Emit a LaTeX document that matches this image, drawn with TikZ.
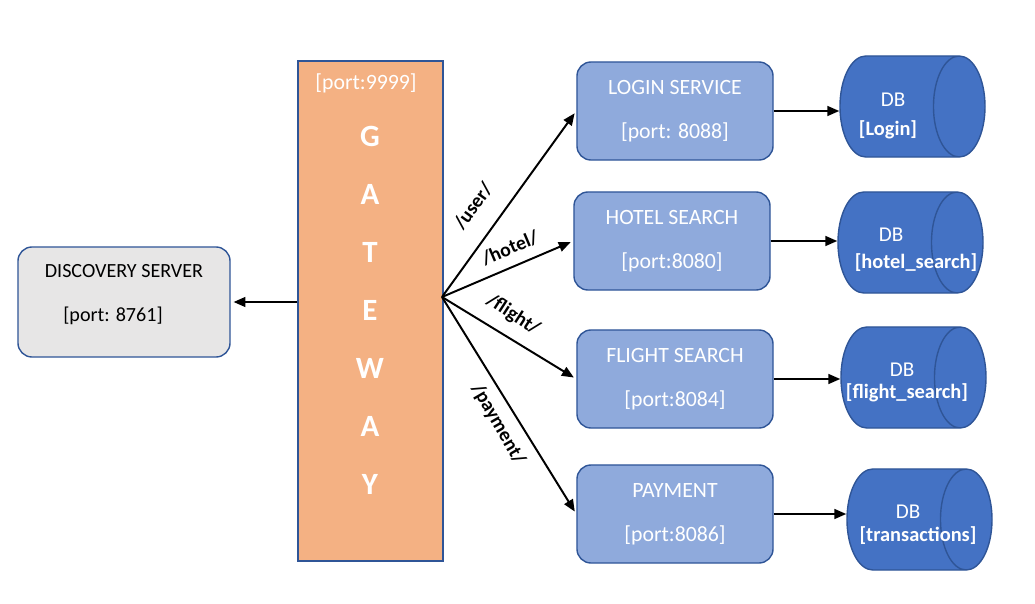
\documentclass[tikz,border=0pt]{standalone}
\usepackage{fontspec}
\setmainfont{Carlito}
\usetikzlibrary{shapes.geometric,arrows.meta}
\definecolor{gwfill}{HTML}{F4B183}
\definecolor{edge}{HTML}{2F5597}
\definecolor{svcfill}{HTML}{8FAADC}
\definecolor{dbfill}{HTML}{4472C4}
\definecolor{dsfill}{HTML}{E7E6E6}
\tikzset{
  svc/.style={draw=edge, fill=svcfill, line width=1pt, rounded corners=10pt,
    minimum width=4.9cm, minimum height=2.45cm, text=white, align=center,
    font=\fontsize{15.5}{18}\selectfont},
  db/.style={cylinder, shape border rotate=0, aspect=5.5, anchor=shape center,
    draw=edge, fill=dbfill, line width=1pt, minimum height=3.625cm, minimum width=2.525cm},
  lbl/.style={font=\bfseries\fontsize{14}{17}\selectfont},
  dbtxt/.style={text=white, font=\fontsize{15}{18}\selectfont},
  dbbold/.style={text=white, font=\bfseries\fontsize{14.5}{17}\selectfont},
  gwtxt/.style={text=white, font=\bfseries\fontsize{22}{26}\selectfont},
  arr/.style={->, line width=1.4pt}
}
\begin{document}
\begin{tikzpicture}[x=0.025cm, y=-0.025cm, >={Triangle[length=8.5pt,width=7pt]}]
\useasboundingbox (0,0) rectangle (1035,604);

% discovery + gateway
\node[draw=edge, fill=dsfill, line width=1pt, rounded corners=10pt,
  minimum width=5.3cm, minimum height=2.75cm] (ds) at (124,302) {};
\node[font=\fontsize{14.3}{17}\selectfont] (dsname) at (124,271) {DISCOVERY SERVER};
\node[font=\fontsize{14.3}{17}\selectfont] (dsport) at (113,316) {[port: 8761]};
\node[draw=edge, fill=gwfill, line width=1pt,
  minimum width=3.625cm, minimum height=12.5cm] (gw) at (370.5,311) {};
\node[text=white, font=\fontsize{15.5}{18}\selectfont] (gwport) at (366,83) {[port:9999]};
\node[gwtxt] (g1) at (370,136) {G};
\node[gwtxt] (g2) at (370,194) {A};
\node[gwtxt] (g3) at (370,252) {T};
\node[gwtxt] (g4) at (370,310) {E};
\node[gwtxt] (g5) at (370,368) {W};
\node[gwtxt] (g6) at (370,426) {A};
\node[gwtxt] (g7) at (370,484) {Y};
\draw[arr, shorten >=2pt] (gw.west |- ds.east) -- (ds.east);

% services
\node[svc] (login) at (675,111) {LOGIN SERVICE\\[13pt][port: 8088]};
\node[svc] (hotel) at (672,241) {HOTEL SEARCH\\[13pt][port:8080]};
\node[svc] (flight) at (675,379) {FLIGHT SEARCH\\[13pt][port:8084]};
\node[svc] (pay) at (675,514) {PAYMENT\\[13pt][port:8086]};

\coordinate (fan) at (442,297);
\draw[arr, shorten >=2pt] (fan) -- (login.west);
\draw[arr, shorten >=2pt] (fan) -- (hotel.west);
\draw[arr, shorten >=2pt] (fan) -- (flight.west);
\draw[arr, shorten >=2pt] (fan) -- (pay.west);
\node[lbl, rotate=54] (luser) at (473,206) {/user/};
\node[lbl, rotate=23] (lhotel) at (510,248) {/hotel/};
\node[lbl, rotate=-33] (lflight) at (513,315) {/flight/};
\node[lbl, rotate=-60] (lpay) at (498,424) {/payment/};

% databases
\node[db] (dbl) at (912.5,106.5) {};
\node[db] (dbh) at (910.5,242.5) {};
\node[db] (dbf) at (913.5,377.5) {};
\node[db] (dbp) at (919.5,519.5) {};
\node[dbtxt] (dbl1) at (893,100) {DB};
\node[dbbold] (dbl2) at (888,130) {[Login]};
\node[dbtxt] (dbh1) at (891,235) {DB};
\node[dbbold] (dbh2) at (916,263) {[hotel\_search]};
\node[dbtxt] (dbf1) at (902,370) {DB};
\node[dbbold] (dbf2) at (907,393) {[flight\_search]};
\node[dbtxt] (dbp1) at (908,512) {DB};
\node[dbbold] (dbp2) at (918,536) {[transactions]};

\draw[arr] (login.east) -- (login.east -| dbl.west);
\draw[arr] (hotel.east) -- (hotel.east -| dbh.west);
\draw[arr] (flight.east) -- (flight.east -| dbf.west);
\draw[arr] (pay.east) -- (pay.east -| dbp.west);
\end{tikzpicture}
\end{document}
